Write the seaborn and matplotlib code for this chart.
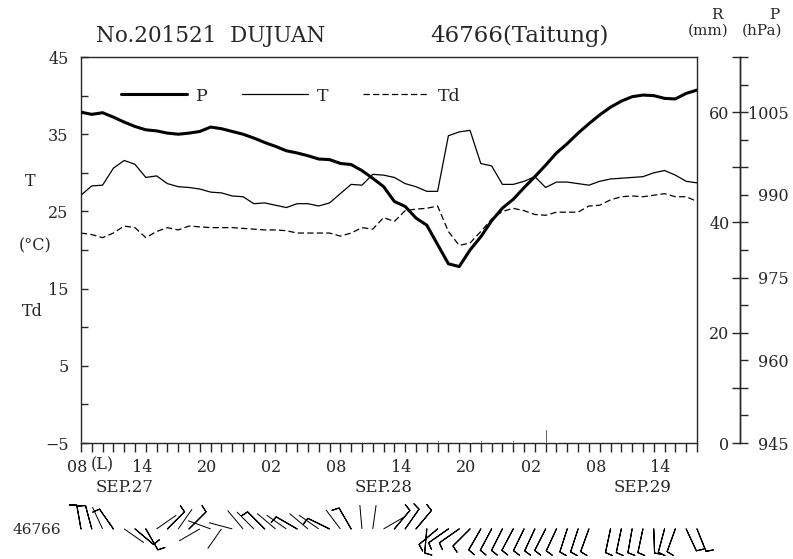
import numpy as np
import pandas as pd
import matplotlib
matplotlib.use("Agg")
import matplotlib.pyplot as plt
import matplotlib.transforms as mtransforms
import seaborn as sns

# hourly data, 08 LST Sep 27 .. 17 LST Sep 29
hours = np.arange(58)

pres = [1005.0, 1004.6, 1004.9, 1004.1, 1003.2, 1002.4, 1001.8, 1001.6, 1001.2, 1001.0,
        1001.2, 1001.5, 1002.3, 1002.0, 1001.5, 1001.0, 1000.3, 999.5, 998.8, 998.0,
        997.6, 997.1, 996.5, 996.4, 995.7, 995.5, 994.4, 993.0, 991.5, 988.8,
        987.9, 985.8, 984.5, 981.0, 977.5, 977.0, 980.0, 982.4, 985.3, 987.6,
        989.2, 991.3, 993.3, 995.4, 997.6, 999.3, 1001.2, 1002.9, 1004.5, 1005.9,
        1007.0, 1007.8, 1008.1, 1008.0, 1007.5, 1007.4, 1008.4, 1009.0]

temp = [27.1, 28.3, 28.4, 30.6, 31.6, 31.1, 29.4, 29.6, 28.6, 28.2,
        28.1, 27.9, 27.5, 27.4, 27.0, 26.9, 26.0, 26.1, 25.8, 25.5,
        26.0, 26.0, 25.7, 26.1, 27.3, 28.5, 28.4, 29.8, 29.7, 29.4,
        28.6, 28.2, 27.6, 27.6, 34.8, 35.3, 35.5, 31.2, 30.9, 28.5,
        28.5, 28.9, 29.5, 28.1, 28.8, 28.8, 28.6, 28.4, 28.9, 29.2,
        29.3, 29.4, 29.5, 30.0, 30.3, 29.7, 28.9, 28.7]

dewp = [22.2, 22.0, 21.6, 22.2, 23.1, 22.9, 21.6, 22.4, 22.9, 22.6,
        23.1, 23.0, 22.9, 22.9, 22.9, 22.8, 22.7, 22.6, 22.6, 22.5,
        22.2, 22.2, 22.2, 22.2, 21.8, 22.2, 22.9, 22.7, 24.2, 23.7,
        25.1, 25.3, 25.4, 25.7, 22.4, 20.6, 20.9, 22.4, 24.0, 25.0,
        25.4, 25.1, 24.6, 24.5, 24.9, 24.9, 24.9, 25.7, 25.8, 26.5,
        26.9, 27.0, 26.9, 27.1, 27.3, 26.9, 26.9, 26.3]

rain = [0] * 58
rain[26] = 0.3
rain[33] = 0.5
rain[36] = 0.2
rain[37] = 0.5
rain[38] = 0.2
rain[40] = 0.5
rain[43] = 2.5
rain[44] = 0.5

nan = np.nan
wdir = [350, 345, 335, 325, 125, 130, 150, 55, 45, 35,
        45, 240, 290, 215, 285, 320, 315, 315, 310, 305,
        300, 310, 305, 296, 323, 330, 355, 8, 60, 40,
        35, 40, 185, 230, 235, 235, 225, 210, 208, 207,
        208, 206, 205, 207, 205, 198, 198, 200, nan, 192,
        192, 190, 192, 178, 195, 200, 155, 158]
wspd = [10, 10, 2, 10, 2, 10, 10, 2, 10, 2,
        10, 2, 2, 2, 2, 2, 2, 10, 2, 2,
        10, 2, 2, 10, 2, 10, 2, 2, 2, 10,
        10, 10, 10, 10, 10, 10, 10, 10, 10, 10,
        10, 10, 10, 10, 10, 10, 10, 10, nan, 10,
        10, 10, 10, 10, 10, 10, 10, 10]

tick_hours = list(range(0, 58, 6))
tick_labels = ["08", "14", "20", "02", "08", "14", "20", "02", "08", "14"]
date_hours = [4, 28, 52]
date_labels = ["SEP.27", "SEP.28", "SEP.29"]

sns.set_style("ticks")
plt.rcParams['font.family'] = ['DejaVu Serif']
plt.rcParams['axes.linewidth'] = 1.0

df = pd.DataFrame({"hour": hours, "T": temp, "Td": dewp, "P": pres, "R": rain})

fig = plt.figure(figsize=(7.93, 5.59), dpi=100)
ax = fig.add_axes([0.1021, 0.2075, 0.7768, 0.6905])

sns.lineplot(data=df, x="hour", y="T", ax=ax, color="black", lw=0.9)
sns.lineplot(data=df, x="hour", y="Td", ax=ax, color="black", lw=0.9, linestyle=(0, (5, 2.6)))
ax.set_xlim(0, 57)
ax.set_ylim(-5, 45)
ax.set_yticks(range(-5, 46, 10))
ax.set_yticks(range(0, 45, 10), minor=True)
ax.tick_params(axis='y', which='both', direction='in', length=5, width=1, labelsize=11.5, pad=9)
ax.set_xticks(tick_hours)
ax.set_xticklabels(tick_labels)
ax.set_xticks(hours, minor=True)
ax.tick_params(axis='x', which='both', direction='out', length=6.5, width=1, labelsize=11.5, pad=5)
ax.set_xlabel("")
ax.set_ylabel("")
shift = mtransforms.ScaledTranslation(-4 / 100, 0, fig.dpi_scale_trans)
for lab in ax.get_xticklabels():
    lab.set_transform(lab.get_transform() + shift)

# rain axis (R, mm)
axr = ax.twinx()
axr.bar(hours, rain, width=0.18, color="black")
axr.set_ylim(0, 70)
axr.yaxis.tick_left()
for s in ["top", "bottom", "right"]:
    axr.spines[s].set_visible(False)
axr.spines["left"].set_position(("axes", 1.0698))
axr.set_yticks([0, 20, 40, 60])
axr.set_yticks([10, 30, 50, 70], minor=True)
axr.tick_params(axis='y', which='both', direction='out', length=6, width=1, labelsize=11.5, pad=1.5)

# pressure axis (P, hPa)
axp = ax.twinx()
sns.lineplot(data=df, x="hour", y="P", ax=axp, color="black", lw=2.2)
axp.set_ylim(945, 1015)
for s in ["top", "bottom", "left"]:
    axp.spines[s].set_visible(False)
axp.spines["right"].set_position(("axes", 1.0698))
axp.set_yticks([945, 960, 975, 990, 1005])
axp.set_yticks(range(945, 1016, 5), minor=True)
axp.tick_params(axis='y', which='both', direction='out', length=6, width=1, labelsize=11.5, pad=29)
plt.setp(axp.get_yticklabels(), ha='right')
axp.set_xlabel("")
axp.set_ylabel("")

hP = axp.lines[0]
hT, hTd = ax.lines[0], ax.lines[1]
axp.legend([hP, hT, hTd], ["P", "T", "Td"], ncol=3, frameon=False, loc="center left",
           bbox_to_anchor=(0.065, 0.899), borderaxespad=0, borderpad=0,
           handlelength=3.8, handletextpad=0.5, columnspacing=2.0, fontsize=12.5)

# texts
fig.text(211 / 793, 1 - 36 / 559, "No.201521  DUJUAN", ha="center", va="center", fontsize=15.5)
fig.text(519 / 793, 1 - 36 / 559, "46766(Taitung)", ha="center", va="center", fontsize=16.5)
fig.text(717 / 793, 1 - 15 / 559, "R", ha="center", va="center", fontsize=11)
fig.text(774 / 793, 1 - 15 / 559, "P", ha="center", va="center", fontsize=11)
fig.text(708 / 793, 1 - 31 / 559, "(mm)", ha="center", va="center", fontsize=11)
fig.text(762 / 793, 1 - 31 / 559, "(hPa)", ha="center", va="center", fontsize=11)
fig.text(30 / 793, 1 - 181 / 559, "T", ha="center", va="center", fontsize=11.5)
fig.text(35 / 793, 1 - 246 / 559, "(°C)", ha="center", va="center", fontsize=11.5)
fig.text(32 / 793, 1 - 311 / 559, "Td", ha="center", va="center", fontsize=11.5)
fig.text(37 / 793, 1 - 530 / 559, "46766", ha="center", va="center", fontsize=11)

xtrans = mtransforms.blended_transform_factory(ax.transData, fig.transFigure)
ax.text(1.95, 1 - 465 / 559, "(L)", transform=xtrans, ha="center", va="center", fontsize=11.5)
for h, lab in zip(date_hours, date_labels):
    ax.text(h, 1 - 487 / 559, lab, transform=xtrans, ha="center", va="center", fontsize=12)

# wind barbs
axw = fig.add_axes([0.1021, 0.0, 0.7768, 64 / 559])
axw.set_xlim(0, 57)
axw.set_ylim(0, 1)
axw.axis("off")
wd = np.radians(np.array(wdir, dtype=float))
ws = np.array(wspd, dtype=float)
yb = np.full(58, 0.47)
weak = ws < 5
strong = ws >= 5
axw.quiver(hours[weak], yb[weak], np.sin(wd[weak]), np.cos(wd[weak]), angles='uv',
           scale_units='inches', scale=1 / 0.24, units='dots', width=1.0,
           headwidth=0, headlength=0, headaxislength=0, pivot='tail', color='black',
           clip_on=False)
axw.barbs(hours[strong], yb[strong], -ws[strong] * np.sin(wd[strong]), -ws[strong] * np.cos(wd[strong]),
          length=5.9, linewidth=0.8, color='black', flip_barb=True,
          sizes=dict(height=0.3, width=0.12), clip_on=False)

fig.savefig("out.png", dpi=100)
